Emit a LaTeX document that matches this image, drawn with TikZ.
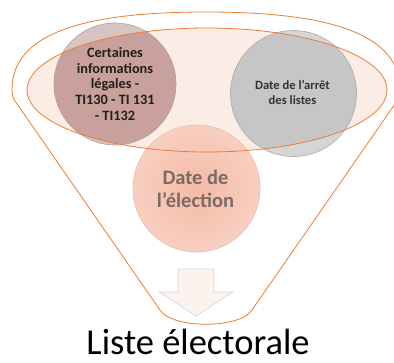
\documentclass[tikz,border=0pt]{standalone}
\usepackage{fontspec}
\setmainfont{Carlito}
\definecolor{funnelor}{HTML}{ED7D31}
\definecolor{ellfill}{HTML}{FBECE5}
\definecolor{roseout}{HTML}{D8C4C1}
\definecolor{rosein}{HTML}{C9A19C}
\definecolor{roseedge}{HTML}{B3A19F}
\definecolor{greyout}{HTML}{D5D5D5}
\definecolor{greyin}{HTML}{C6C6C6}
\definecolor{greyedge}{HTML}{ADADAD}
\definecolor{salmonin}{HTML}{F5BAA5}
\definecolor{salmonout}{HTML}{F8CFC1}
\definecolor{salmonedge}{HTML}{E2BFB2}
\definecolor{bottomtext}{HTML}{7B6B66}
\definecolor{arrowfill}{HTML}{FCF2EE}
\definecolor{arrowedge}{HTML}{D6D6D6}
\tikzset{
  bubble/.style={circle, inner sep=0pt, minimum size=#1},
  orangeline/.style={draw=funnelor, line width=0.8pt},
  lefttext/.style={align=center, font=\fontsize{14.3}{15.7}\selectfont\bfseries, text=black!88},
  righttext/.style={align=center, font=\fontsize{12.6}{15}\selectfont\bfseries, text=black!80},
  bottomtxt/.style={align=center, font=\fontsize{20.5}{23}\selectfont\bfseries, text=bottomtext},
  titletext/.style={font=\fontsize{36.5}{40}\selectfont, text=black},
  blockarrow/.style={fill=arrowfill, draw=arrowedge, line width=0.6pt, line join=miter}
}
\begin{document}
\begin{tikzpicture}[x=1pt,y=-1pt]
\useasboundingbox (0,0) rectangle (394,362);
\clip (0,0) rectangle (394,362);
\fill[white] (0,0) rectangle (394,362);
% inner ellipse fill
\fill[ellfill] (207,90) ellipse[x radius=180pt, y radius=62pt];
% circles
\node[bubble=122pt, fill=roseout] (cl) at (115,84) {};
\node[bubble=126pt, fill=greyout] (cr) at (293.5,93.5) {};
\node[bubble=127pt, inner color=salmonin, outer color=salmonout] (cb) at (196.5,188.5) {};
\begin{scope}
  \clip (207,90) ellipse[x radius=180pt, y radius=62pt];
  \fill[rosein] (cl.center) circle[radius=61pt];
  \fill[greyin] (cr.center) circle[radius=63pt];
\end{scope}
\draw[roseedge, line width=0.6pt] (cl.center) circle[radius=61pt];
\draw[greyedge, line width=0.6pt] (cr.center) circle[radius=63pt];
\draw[salmonedge, line width=0.6pt] (cb.center) circle[radius=63.5pt];
% texts
\node[lefttext] (tl) at (115,84) {Certaines\\informations\\légales -\\TI130 - TI 131\\- TI132};
\node[righttext] (tr) at (292.5,92.5) {Date de l’arrêt\\des listes};
\node[bottomtxt] (tb) at (195.5,189) {Date de\\l’élection};
% inner ellipse outline
\draw[orangeline] (207,90) ellipse[x radius=180pt, y radius=62pt];
% funnel outline
\coordinate (fl) at (12,90);
\coordinate (ft) at (206,12);
\coordinate (fr) at (400,90);
\coordinate (fbl) at (160,310);
\coordinate (fbr) at (252,310);
\draw[orangeline, line join=round] (fl) .. controls (12,37) and (74,12) .. (ft)
  .. controls (338,12) and (400,37) .. (fr)
  .. controls (400,95) and (399,98) .. (397,101) -- (fbr)
  .. controls (240,329) and (172,329) .. (fbl)
  -- (15,101) .. controls (13,98) and (12,95) .. (fl) -- cycle;
% arrow
\draw[blockarrow] (178,269) -- (214,269) -- (214,292) -- (233,292) -- (196,316) -- (159,292) -- (178,292) -- cycle;
% title
\node[titletext, anchor=base] (title) at (198,354) {Liste électorale};
\end{tikzpicture}
\end{document}
